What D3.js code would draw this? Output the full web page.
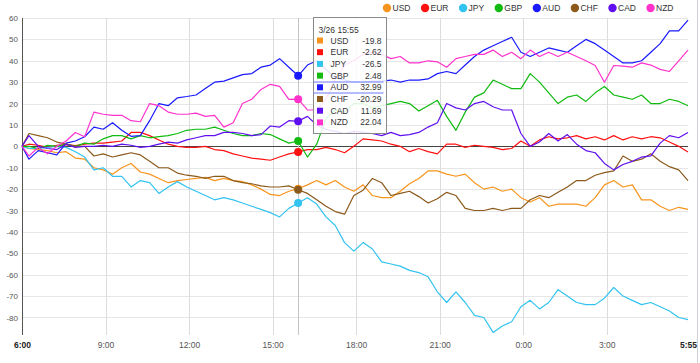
<!DOCTYPE html>
<html>
<head>
<meta charset="utf-8">
<title>Currency strength</title>
<script src="https://d3js.org/d3.v7.min.js"></script>
<style>
    body { margin: 0; background: #fff; font-family: "Liberation Sans", Arial, sans-serif; }
    #chart { width: 700px; height: 363px; position: relative; }
</style>
</head>
<body>
<div id="chart"></div>
<script>

// currencies and colours (legend order)
const currencies = ["USD", "EUR", "JPY", "GBP", "AUD", "CHF", "CAD", "NZD"];
const colors = ["#f7941d", "#ff1010", "#33c3f0", "#11bb11", "#1a1aff", "#8c5a1c", "#6010f0", "#ff33cc"];

// sample times: 3/26 6:00, then every 20 min from 6:15 to 3/27 5:55
const startTime = new Date(2013, 2, 26, 6, 0);
const endTime = new Date(2013, 2, 27, 5, 55);
const hoverTime = new Date(2013, 2, 26, 15, 55);
const times = [startTime].concat(d3.range(72).map(k => d3.timeMinute.offset(startTime, 15 + 20 * k)));

// series values
const usd = [0, -1, -1.5, -2, -3, -2.5, -5.5, -6, -10, -11, -13, -10, -8, -12, -13, -15, -17, -16, -15.5, -15, -14.5,
    -16, -15, -16, -16.5, -18, -20, -22.5, -23, -21, -19.8, -18, -16, -18, -16, -19, -21, -18, -23, -24, -24,
    -21, -17.5, -15, -11.5, -11.5, -13, -14, -13, -17, -20, -19, -21, -20, -24, -26, -24, -28, -27, -27, -27,
    -28, -24, -18, -16, -19, -18, -25, -25, -28, -30, -28.5, -29.5];
const eur = [0, 1, 0.5, -0.5, 0.5, 0.8, 0.3, 1, 1.5, 1.5, 2, 2.5, 6.5, 6.5, 5, 3, 1, 0, -0.5, -0.5, 0,
    -1.5, -2, -3.5, -4.5, -5.5, -6, -6.5, -5, -3.5, -2.62, -1.5, -1.5, -0.5, -1.5, -3, 0, 3.5, 3, 2.5, 1,
    0, -2.5, -1, -2.5, -3.5, 1, 1, -0.5, 0.5, 0, -0.5, -1.5, -1, 2.5, 0, 3, 4.5, 3.5, 4, 5,
    3.5, 4.5, 3, 5, 3, 4.5, 3.5, 4.5, 4, 2, 0, -2.6];
const jpy = [0, -1, -1, -0.5, 0, -0.5, -2.5, -5, -11, -10, -14, -14, -19, -16, -17, -22, -19, -16.5, -19, -21, -23,
    -25, -24, -25, -26.5, -28, -29.5, -31, -33, -29, -26.5, -24, -27, -33, -37, -45, -49, -45, -48, -54, -55,
    -56, -58, -59, -61, -68, -73, -68, -73, -79, -80, -87, -84, -82, -75, -72, -76, -73, -67, -70, -73,
    -74, -74, -71, -66, -70, -72, -74, -73, -75, -77, -80, -81];
const gbp = [0, 0, -1, 0.5, 0, 1, 0, 1.5, 1, 3.5, 5, 5, 3.5, 5, 4, 4.5, 5, 6, 7.5, 8, 8,
    9, 7.5, 6, 5, 5, 6, 5.5, 3.5, 1.5, 2.48, -5, 1, 13, 17, 16, 20, 20, 18, 19, 20,
    21, 20, 16.5, 19, 21.5, 14, 7.5, 16, 23, 25, 31, 29, 27, 27, 34, 30, 25, 20, 23, 24,
    21, 25, 28, 24, 23, 22, 24, 20, 20, 22, 21, 19];
const aud = [0, -6, -2, -3, -4, 1.5, 2.5, 4.5, 9, 8, 11, 7.5, 4.7, 5, 12, 20, 19, 22.7, 23.3, 24, 27,
    30, 30.5, 32, 33.5, 34, 37, 38, 41, 37, 32.99, 38, 40, 36, 32, 31, 30, 30, 30.5, 30.5, 31,
    30, 31, 31, 31.5, 34, 35, 34, 38, 42, 45, 47, 49, 51, 44, 42, 44, 46, 45, 44, 47,
    50, 48, 45, 42, 39, 39, 40, 44, 48, 54, 54, 59];
const chf = [0, 6, 5, 4, 2, 1, 0, 0, -4.5, -3.5, -5, -4, -3, -4, -7, -10, -10, -12.5, -13.5, -14, -15,
    -14, -14, -16, -17, -17.5, -18.5, -19, -19, -18.5, -20.29, -22, -25, -28, -30.5, -31.7, -23, -20.5, -15, -17, -23,
    -22, -21, -23.5, -26.5, -24.5, -21.5, -23, -29, -30, -30, -29, -30, -29, -29, -25, -23, -24, -21.5, -19, -16,
    -16, -13.5, -12.3, -11.5, -4.5, -7, -6, -3.5, -7, -9.5, -11, -16];
const cad = [0, 5, 0, -1, -1.5, 1, -0.5, 0, 0, 0.5, 0, 1, 0.5, -0.5, 0, 1, 2, 1.5, 3, 4, 5,
    5, 6.5, 6.5, 6, 5, 5.5, 9.5, 9, 12, 11.69, 14, 10, 8, 7, 6, 7, 6.5, 6, 5, 6.5,
    5, 5.5, 6.5, 9, 11, 20, 18, 17, 20, 21, 18.5, 17, 17, 6, 0, 2, 6, 2.5, 5.5, 1,
    -2, -3, -8, -11, -8.5, -7, -5, -4.5, 1.5, 5, 4, 6.5];
const nzd = [0, -4.5, -0.5, -3.5, 0, 2.5, 6.5, 4.5, 16, 15, 14.5, 14.5, 12, 11.5, 20, 19, 16, 15, 15, 15.5, 14,
    14.5, 9, 11, 20, 22, 26.6, 29, 28, 22, 22.04, 17, 17, 22, 31, 38, 40, 43, 44, 43, 41,
    42, 39, 39, 40, 39.5, 37, 41, 42, 43, 43, 45, 42, 44, 41, 45, 42, 44, 42, 44, 42,
    40, 37.8, 30, 37.8, 37.5, 37, 39, 38, 36, 35, 40, 45];

// axis ticks
const yTicks = [-80, -70, -60, -50, -40, -30, -20, -10, 0, 10, 20, 30, 40, 50, 60];
const xTicks = [6, 9, 12, 15, 18, 21, 24, 27].map(h => d3.timeHour.offset(startTime, h - 6)).concat([endTime]);
const xTickLabels = ["6:00", "9:00", "12:00", "15:00", "18:00", "21:00", "0:00", "3:00", "5:55"];


class LineVis {

    constructor(parentElement) {
        this.parentElement = parentElement;
        this.series = [usd, eur, jpy, gbp, aud, chf, cad, nzd];

        this.initVis()
    }

    initVis() {
        let vis = this;

        vis.margin = {top: 18, right: 12, bottom: 28, left: 22};
        vis.width = 700 - vis.margin.left - vis.margin.right;
        vis.height = 363 - vis.margin.top - vis.margin.bottom;

        vis.svgRoot = d3.select("#" + vis.parentElement).append("svg")
            .attr("width", 700)
            .attr("height", 363)
            .style("font-family", '"Liberation Sans", Arial, sans-serif');

        // page border on the right
        vis.svgRoot.append("line")
            .attr("x1", 697.5).attr("x2", 697.5)
            .attr("y1", 0).attr("y2", 363)
            .attr("stroke", "#d0d0d8");

        vis.svg = vis.svgRoot.append("g")
            .attr("transform", `translate(${vis.margin.left}, ${vis.margin.top})`);

        // scales
        vis.x = d3.scaleTime()
            .domain([startTime, endTime])
            .range([0, vis.width]);

        vis.y = d3.scaleLinear()
            .domain([-88.2, 60])
            .range([vis.height, 0]);

        // grid
        vis.svg.append("g")
            .attr("class", "grid-y")
            .selectAll("line")
            .data(yTicks)
            .enter().append("line")
            .attr("x1", 0)
            .attr("x2", vis.width)
            .attr("y1", d => Math.round(vis.y(d)) + 0.5)
            .attr("y2", d => Math.round(vis.y(d)) + 0.5)
            .attr("stroke", "#e6e6e6");

        vis.svg.append("g")
            .attr("class", "grid-x")
            .selectAll("line")
            .data(xTicks.slice(1, -1))
            .enter().append("line")
            .attr("x1", d => Math.round(vis.x(d)) + 0.5)
            .attr("x2", d => Math.round(vis.x(d)) + 0.5)
            .attr("y1", 0)
            .attr("y2", vis.height)
            .attr("stroke", "#dcdcdc");

        // zero line
        vis.svg.append("line")
            .attr("x1", 0)
            .attr("x2", vis.width)
            .attr("y1", Math.round(vis.y(0)) + 0.5)
            .attr("y2", Math.round(vis.y(0)) + 0.5)
            .attr("stroke", "#444");

        // y axis
        vis.yAxis = d3.axisLeft(vis.y)
            .tickValues(yTicks)
            .tickSize(0)
            .tickPadding(4)
            .tickFormat(d => String(d));

        vis.yAxisG = vis.svg.append("g")
            .attr("class", "axis y-axis")
            .call(vis.yAxis);
        vis.yAxisG.select(".domain").remove();
        vis.yAxisG.selectAll("text")
            .attr("fill", "#555")
            .style("font-size", "8px");

        vis.svg.append("line")
            .attr("x1", 0.5).attr("x2", 0.5)
            .attr("y1", 0).attr("y2", vis.height)
            .attr("stroke", "#555");

        // x axis
        vis.xAxis = d3.axisBottom(vis.x)
            .tickValues(xTicks)
            .tickSize(0)
            .tickPadding(7)
            .tickFormat((d, i) => xTickLabels[i]);

        vis.xAxisG = vis.svg.append("g")
            .attr("class", "axis x-axis")
            .attr("transform", `translate(0, ${vis.height})`)
            .call(vis.xAxis);
        vis.xAxisG.select(".domain").remove();
        vis.xAxisG.selectAll("text")
            .attr("fill", (d, i) => (i === 0 || i === xTicks.length - 1) ? "#222" : "#555")
            .style("font-weight", (d, i) => (i === 0 || i === xTicks.length - 1) ? "bold" : "normal")
            .style("font-size", "8.5px");

        vis.wrangleData()
    }

    wrangleData() {
        let vis = this;

        vis.displayData = currencies.map((c, i) => ({
            name: c,
            color: colors[i],
            values: times.map((t, j) => ({time: t, value: vis.series[i][j]}))
        }));

        vis.hoverIndex = times.findIndex(t => +t === +hoverTime);

        vis.updateVis()
    }

    updateVis() {
        let vis = this;

        vis.line = d3.line()
            .x(d => vis.x(d.time))
            .y(d => vis.y(d.value));

        // lines
        vis.svg.append("g")
            .attr("class", "lines")
            .selectAll("path")
            .data(vis.displayData)
            .enter().append("path")
            .attr("d", d => vis.line(d.values))
            .attr("fill", "none")
            .attr("stroke", d => d.color)
            .attr("stroke-width", 1.2)
            .attr("stroke-linejoin", "round");

        // crosshair + markers at hovered time
        let hx = Math.round(vis.x(hoverTime)) + 0.5;
        vis.svg.append("line")
            .attr("x1", hx).attr("x2", hx)
            .attr("y1", 0).attr("y2", vis.height)
            .attr("stroke", "#c4c4c4");

        vis.svg.append("g")
            .attr("class", "markers")
            .selectAll("circle")
            .data(vis.displayData)
            .enter().append("circle")
            .attr("cx", vis.x(hoverTime))
            .attr("cy", d => vis.y(d.values[vis.hoverIndex].value))
            .attr("r", 4)
            .attr("fill", d => d.color);

        // tooltip
        let tip = vis.svgRoot.append("g")
            .attr("class", "tooltip")
            .attr("transform", "translate(313.5, 17.5)");

        tip.append("rect")
            .attr("width", 73)
            .attr("height", 116)
            .attr("fill", "rgba(255,255,255,0.86)")
            .attr("stroke", "#8a8a8a");

        tip.append("text")
            .attr("x", 5)
            .attr("y", 15)
            .attr("fill", "#333")
            .style("font-size", "8.5px")
            .text(d3.timeFormat("%-m/%d %H:%M")(hoverTime));

        let rowH = 11.7;
        let rows = tip.selectAll(".row")
            .data(vis.displayData)
            .enter().append("g")
            .attr("class", "row")
            .attr("transform", (d, i) => `translate(0, ${23 + i * rowH})`);

        rows.append("rect")
            .attr("x", 3.5)
            .attr("y", -3)
            .attr("width", 6)
            .attr("height", 6)
            .attr("fill", d => d.color);

        rows.append("text")
            .attr("x", 17)
            .attr("y", 3)
            .attr("fill", "#333")
            .style("font-size", "8.5px")
            .text(d => d.name);

        rows.append("text")
            .attr("x", 68)
            .attr("y", 3)
            .attr("text-anchor", "end")
            .attr("fill", "#333")
            .style("font-size", "8.5px")
            .text(d => String(+d.values[vis.hoverIndex].value.toFixed(2)));

        // highlight the hovered series row
        let hi = currencies.indexOf("AUD");
        [23 + hi * rowH - 6, 23 + hi * rowH + 5.5].forEach(yy => {
            tip.append("line")
                .attr("x1", 0).attr("x2", 70)
                .attr("y1", Math.round(yy) + 0.5).attr("y2", Math.round(yy) + 0.5)
                .attr("stroke", "#6b7bff");
        });

        // legend
        vis.legend = vis.svgRoot.append("g")
            .attr("class", "legend")
            .attr("transform", "translate(387, 8)");

        let xPos = 0;
        vis.displayData.forEach(d => {
            let item = vis.legend.append("g")
                .attr("transform", `translate(${xPos}, 0)`);
            item.append("circle")
                .attr("r", 4.2)
                .attr("fill", d.color);
            let txt = item.append("text")
                .attr("x", 5.5)
                .attr("y", 3)
                .attr("fill", "#333")
                .style("font-size", "8.5px")
                .text(d.name);
            xPos += 5.5 + txt.node().getComputedTextLength() + 14.6;
        });
    }
}

new LineVis("chart");

</script>
</body>
</html>
